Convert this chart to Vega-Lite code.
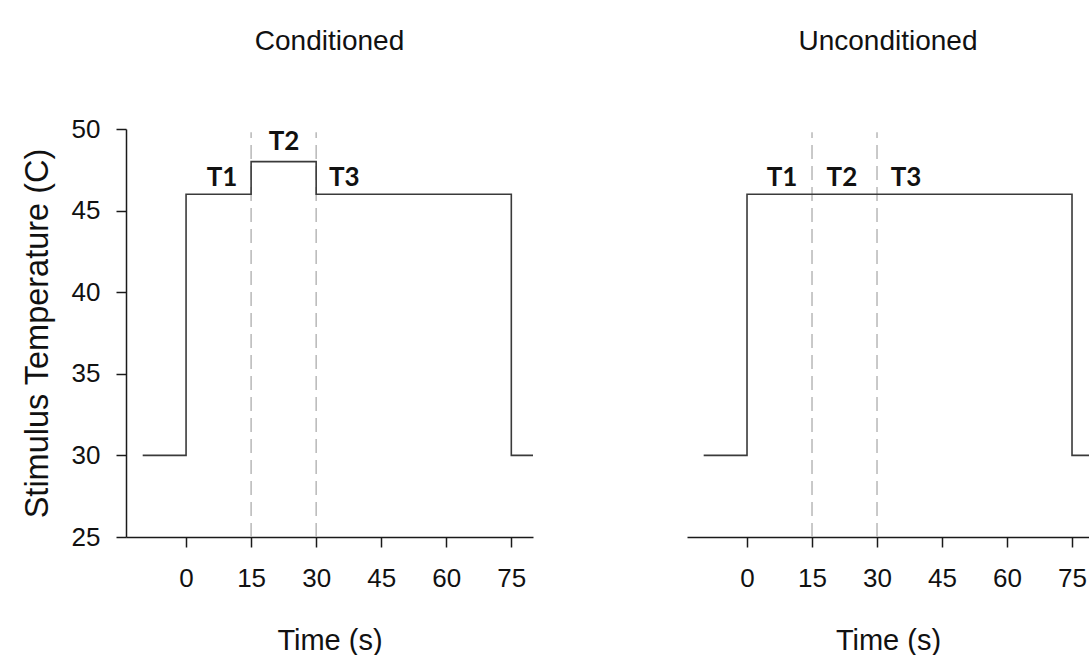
{
  "$schema": "https://vega.github.io/schema/vega-lite/v6.json",
  "background": "white",
  "padding": {"left": 21, "top": 28, "right": 0, "bottom": 0},
  "spacing": 154,
  "datasets": {
    "cond": [
      {"i": 1, "x": -10, "y": 30}, {"i": 2, "x": 0, "y": 30}, {"i": 3, "x": 0, "y": 46}, {"i": 4, "x": 15, "y": 46},
      {"i": 5, "x": 15, "y": 48}, {"i": 6, "x": 30, "y": 48}, {"i": 7, "x": 30, "y": 46}, {"i": 8, "x": 75, "y": 46},
      {"i": 9, "x": 75, "y": 30}, {"i": 10, "x": 80, "y": 30}
    ],
    "uncond": [
      {"i": 1, "x": -10, "y": 30}, {"i": 2, "x": 0, "y": 30}, {"i": 3, "x": 0, "y": 46}, {"i": 4, "x": 75, "y": 46},
      {"i": 5, "x": 75, "y": 30}, {"i": 6, "x": 80, "y": 30}
    ],
    "cond_t": [
      {"label": "T1", "x": 8.3, "y": 47.0},
      {"label": "T2", "x": 22.6, "y": 49.2},
      {"label": "T3", "x": 36.5, "y": 47.0}
    ],
    "uncond_t": [
      {"label": "T1", "x": 8.1, "y": 47.0},
      {"label": "T2", "x": 21.9, "y": 47.0},
      {"label": "T3", "x": 36.7, "y": 47.0}
    ],
    "dash": [
      {"x": 15, "y": 25, "y2": 49.8},
      {"x": 30, "y": 25, "y2": 49.8}
    ]
  },
  "config": {
    "view": {"stroke": null},
    "font": "Liberation Sans",
    "axis": {
      "grid": false,
      "domainColor": "#1a1a1a",
      "domainWidth": 1.5,
      "tickColor": "#1a1a1a",
      "tickWidth": 1.5,
      "tickSize": 10,
      "labelFont": "Liberation Sans",
      "labelFontSize": 26,
      "labelColor": "#111111",
      "titleFont": "Liberation Sans",
      "titleFontSize": 29,
      "titleFontWeight": "normal",
      "titleColor": "#111111"
    },
    "title": {"font": "Liberation Sans", "fontSize": 28, "fontWeight": "normal", "color": "#111111"}
  },
  "hconcat": [
    {
      "width": 407,
      "height": 408,
      "title": {"text": "Conditioned", "offset": 60},
      "encoding": {
        "x": {"field": "x", "type": "quantitative", "scale": {"domain": [-13.85, 80], "nice": false, "zero": false},
              "axis": {"values": [0, 15, 30, 45, 60, 75], "title": "Time (s)", "labelPadding": 18, "titlePadding": 35}},
        "y": {"field": "y", "type": "quantitative", "scale": {"domain": [25, 50], "nice": false, "zero": false},
              "axis": {"values": [25, 30, 35, 40, 45, 50], "title": "Stimulus Temperature (C)", "titleFontSize": 32.5, "labelPadding": 16, "titlePadding": 17}}
      },
      "layer": [
        {"data": {"name": "dash"}, "mark": {"type": "rule", "color": "#b8b8b8", "strokeWidth": 1.5, "strokeDash": [14, 7]},
         "encoding": {"y2": {"field": "y2"}}},
        {"data": {"name": "cond"}, "mark": {"type": "line", "color": "#3a3a3a", "strokeWidth": 1.6, "clip": true},
         "encoding": {"order": {"field": "i", "type": "quantitative"}}},
        {"data": {"name": "cond_t"}, "mark": {"type": "text", "font": "Lato", "fontWeight": "bold", "fontSize": 26, "color": "#111111"},
         "encoding": {"text": {"field": "label"}}}
      ]
    },
    {
      "width": 402,
      "height": 408,
      "title": {"text": "Unconditioned", "offset": 73},
      "encoding": {
        "x": {"field": "x", "type": "quantitative", "scale": {"domain": [-13.85, 78.92], "nice": false, "zero": false},
              "axis": {"values": [0, 15, 30, 45, 60, 75], "title": "Time (s)", "labelPadding": 18, "titlePadding": 35}},
        "y": {"field": "y", "type": "quantitative", "scale": {"domain": [25, 50], "nice": false, "zero": false}, "axis": null}
      },
      "layer": [
        {"data": {"name": "dash"}, "mark": {"type": "rule", "color": "#b8b8b8", "strokeWidth": 1.5, "strokeDash": [14, 7]},
         "encoding": {"y2": {"field": "y2"}}},
        {"data": {"name": "uncond"}, "mark": {"type": "line", "color": "#3a3a3a", "strokeWidth": 1.6, "clip": true},
         "encoding": {"order": {"field": "i", "type": "quantitative"}}},
        {"data": {"name": "uncond_t"}, "mark": {"type": "text", "font": "Lato", "fontWeight": "bold", "fontSize": 26, "color": "#111111"},
         "encoding": {"text": {"field": "label"}}}
      ]
    }
  ]
}
